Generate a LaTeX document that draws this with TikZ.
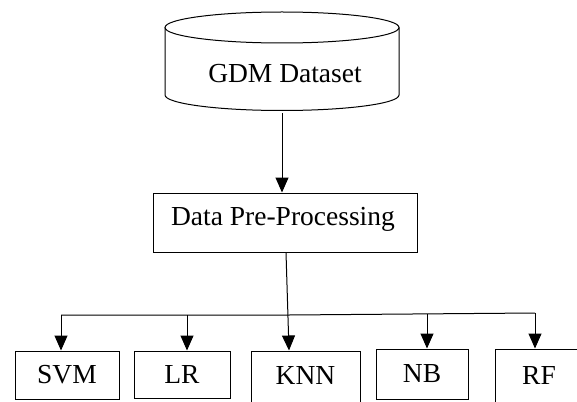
\documentclass[tikz,border=0pt]{standalone}
\usepackage{fontspec}
\setmainfont{Liberation Serif}
\usetikzlibrary{arrows.meta}

\begin{document}
\begin{tikzpicture}[x=1pt, y=-1pt, line width=1pt,
    font=\fontsize{27.5}{32}\selectfont,
    arw/.style={-{Triangle[width=13pt,length=15pt]}},
    box/.style={draw, rectangle, inner sep=0pt}]
  \useasboundingbox (0,0) rectangle (577,401);
  % database drum
  \draw (282,27.5) ellipse[x radius=117pt, y radius=15.5pt];
  \draw (165,27.5) -- (165,95) arc[start angle=180, end angle=360,
    x radius=117pt, y radius=15.5pt] -- (399,27.5);
  \coordinate (gdmbot) at (282,113);
  \node (gdm) at (285,74) {GDM Dataset};
  \node[box, minimum width=264pt, minimum height=59pt] (prep) at (285,222.5) {};
  \node (preptext) at (283,219) {Data Pre-Processing};
  \node[box, minimum width=104pt, minimum height=48pt] (svm) at (67,375) {SVM};
  \node[box, minimum width=96pt, minimum height=47pt] (lr) at (182,374.5) {LR};
  \node[box, minimum width=109pt, minimum height=52pt, text depth=4pt] (knn) at (305.5,377) {KNN};
  \node[box, minimum width=92pt, minimum height=50pt] (nb) at (422,374) {NB};
  \node[box, minimum width=88pt, minimum height=56pt, text depth=4pt] (rf) at (539,377) {RF};
  % bus line
  \coordinate (bsvm) at (61,315);
  \coordinate (blr) at (187,315);
  \coordinate (bknn) at (289,315);
  \coordinate (bnb) at (427,314);
  \coordinate (brf) at (535,313);
  \draw[arw] (gdmbot) -- (prep.north -| gdmbot);
  \draw[arw] ([xshift=1pt]prep.south) -- (bknn |- knn.north);
  \draw (bsvm) -- (bknn) -- (brf);
  \draw[arw] (bsvm) -- (bsvm |- svm.north);
  \draw[arw] (blr) -- (blr |- lr.north);
  \draw[arw] (bnb) -- (bnb |- nb.north);
  \draw[arw] (brf) -- (brf |- rf.north);
\end{tikzpicture}
\end{document}
